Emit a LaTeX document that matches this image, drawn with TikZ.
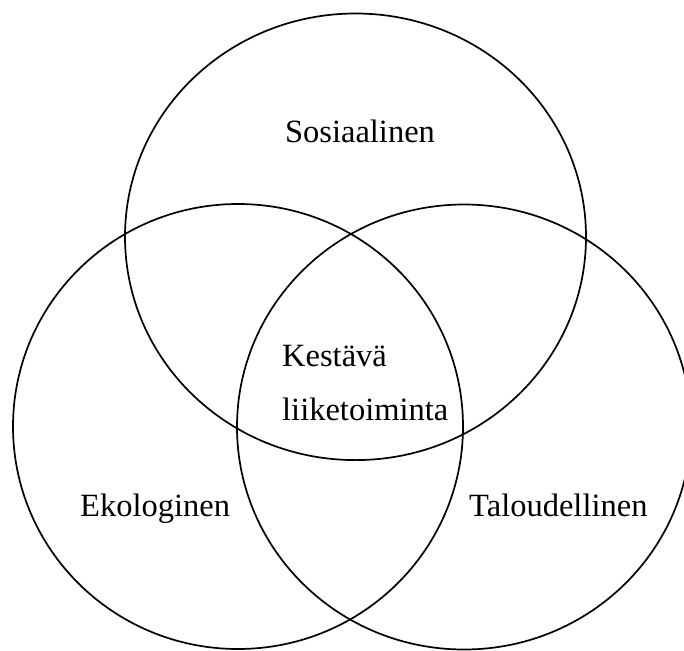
\documentclass[tikz,border=0pt]{standalone}
\usepackage{fontspec}
\setmainfont{Liberation Serif}
\begin{document}
\begin{tikzpicture}[x=1pt,y=-1pt,
  ring/.style={draw=black,line width=1.7pt},
  lbl/.style={inner sep=0pt,anchor=base west,font=\fontsize{32.5}{38}\selectfont}]
\useasboundingbox (0,0) rectangle (684,650);
\begin{scope}
\clip (0,0) rectangle (684,650);
\draw[ring] (355.5,236.8) ellipse [x radius=230.5, y radius=223.3];
\draw[ring] (238,426.5) ellipse [x radius=225, y radius=222.5];
\draw[ring] (464,427) ellipse [x radius=227, y radius=222.5];
\end{scope}
\node[lbl,anchor=base] (sos) at (360,142) {Sosiaalinen};
\node[lbl] (kes) at (282,366) {Kestävä};
\node[lbl] (lii) at (282,420) {liiketoiminta};
\node[lbl] (eko) at (80,516) {Ekologinen};
\node[lbl] (tal) at (469,516) {Taloudellinen};
\end{tikzpicture}
\end{document}
